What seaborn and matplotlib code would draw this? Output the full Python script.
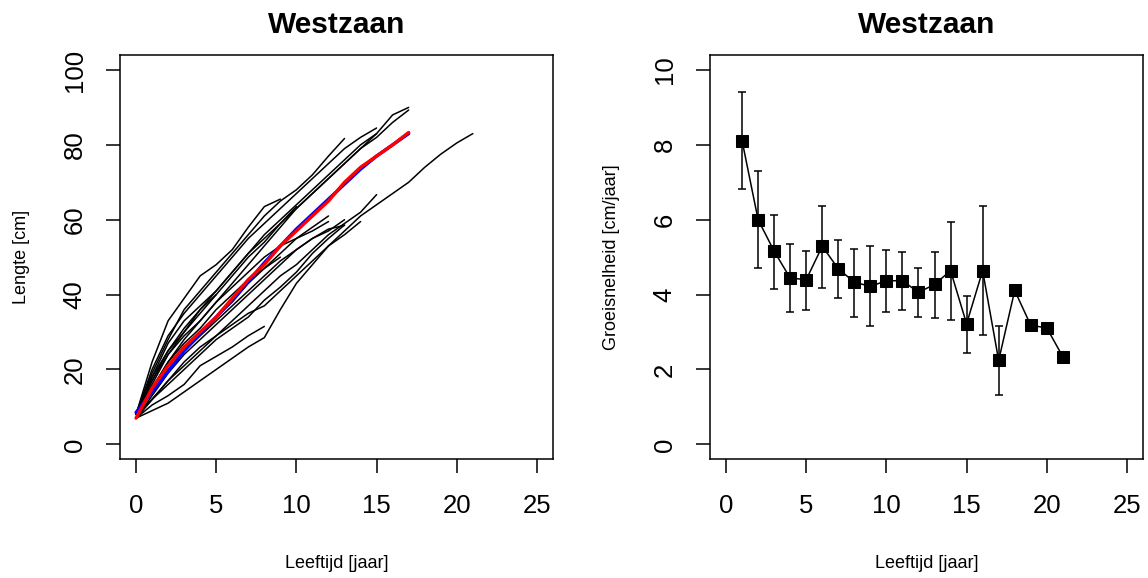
import numpy as np
import pandas as pd
import matplotlib
matplotlib.use("Agg")
import matplotlib.pyplot as plt
import seaborn as sns

# ---------------- data ----------------
# individual back-calculated growth curves (length in cm at age 0,1,2,...)
len_f01 = [8, 18, 27, 33, 37, 41, 46, 51, 56, 60, 64, 68, 72, 76, 80, 83, 88, 90]
len_f02 = [8, 16, 24, 30, 35, 40, 45, 50, 54, 59, 63, 67, 71, 75, 79, 82, 86, 89.3]
len_f03 = [8, 20, 29, 35, 40, 45, 50, 55, 59, 63, 67, 71, 75, 79, 82, 84.5]
len_f04 = [7, 15, 22, 28, 33, 38, 43, 48, 53, 58, 63, 67, 71, 75, 79, 83]
len_f05 = [8, 19, 28, 36, 41, 46, 51, 56, 61, 65, 68, 72, 77, 81.7]
len_f06 = [7, 9, 11, 14, 17, 20, 23, 26, 28.5, 36, 43, 48, 53, 57, 61, 64, 67, 70, 74, 77.5, 80.5, 83]
len_f07 = [7, 12, 17, 21, 25, 29, 33, 37, 41, 45, 48, 52, 56, 59, 62, 66.7]
len_f08 = [8, 15, 21, 26, 30, 34, 38, 43, 47, 51, 55, 58, 61]
len_f09 = [7, 13, 19, 24, 28, 32, 36, 40, 44, 48, 52, 55, 57, 60]
len_f10 = [8, 14, 20, 25, 29, 33, 37, 41, 45, 49, 52, 55, 57.5, 58.5]
len_f11 = [8, 22, 33, 39, 45, 48, 52, 58, 63.5, 65.5]
len_f12 = [7, 10.5, 13, 16, 21, 23.5, 26, 29, 31.5]
len_f13 = [8, 17, 25, 31, 36, 41, 46, 51, 55, 59, 63.5]
len_f14 = [8, 18, 25, 30, 36, 40]
len_f15 = [7, 12, 17, 22, 26, 29, 32, 35, 37, 41, 45, 49, 53, 56, 59.5]
len_f16 = [8, 12, 16, 20, 24, 28, 31, 34, 38.5, 42, 46, 51, 55, 58.6]
len_f17 = [8, 17, 24, 29, 33, 38, 42, 46, 50, 53, 55, 57, 59.5]
len_f18 = [8, 15, 22, 27, 31, 36, 40, 44, 47, 50]

# mean curve (red) and fitted curve (blue), ages 0..17
mean_len = [7, 15, 21, 26, 30, 34, 39, 44, 48, 53, 57, 61, 65, 70, 74, 77, 80, 83.3]
fit_len = [8.5, 14, 19.5, 25, 29.5, 34, 38.5, 43.5, 48.5, 53, 57.5, 61.5, 65.5, 69.5, 73.5, 77, 80, 83]

# growth rate panel
rate_age = list(range(1, 22))
rate_mean = [8.11, 6.0, 5.16, 4.44, 4.4, 5.29, 4.69, 4.33, 4.22, 4.37, 4.37, 4.06,
             4.27, 4.64, 3.22, 4.64, 2.24, 4.11, 3.18, 3.11, 2.34]
rate_low = [6.82, 4.71, 4.15, 3.54, 3.6, 4.18, 3.91, 3.4, 3.16, 3.54, 3.6, 3.4,
            3.38, 3.33, 2.44, 2.91, 1.33, np.nan, np.nan, np.nan, np.nan]
rate_high = [9.42, 7.29, 6.13, 5.35, 5.16, 6.37, 5.47, 5.23, 5.31, 5.18, 5.13, 4.7,
             5.14, 5.94, 3.96, 6.36, 3.15, np.nan, np.nan, np.nan, np.nan]

title_txt = "Westzaan"
xlabel_txt = "Leeftijd [jaar]"
ylabel_left = "Lengte [cm]"
ylabel_right = "Groeisnelheid [cm/jaar]"
xticks = [0, 5, 10, 15, 20, 25]
yticks_left = [0, 20, 40, 60, 80, 100]
yticks_right = [0, 2, 4, 6, 8, 10]

# ---------------- build tables ----------------
curves = [len_f01, len_f02, len_f03, len_f04, len_f05, len_f06, len_f07, len_f08, len_f09,
          len_f10, len_f11, len_f12, len_f13, len_f14, len_f15, len_f16, len_f17, len_f18]
rows = []
for i, c in enumerate(curves):
    for age, L in enumerate(c):
        rows.append({"fish": i, "age": age, "length": L})
df_fish = pd.DataFrame(rows)
df_mean = pd.DataFrame({"age": range(len(mean_len)), "length": mean_len})
df_fit = pd.DataFrame({"age": range(len(fit_len)), "length": fit_len})
df_rate = pd.DataFrame({"age": rate_age, "rate": rate_mean, "low": rate_low, "high": rate_high})

# ---------------- style ----------------
sns.set_theme(style="white")
plt.rcParams["font.family"] = ["Liberation Sans", "DejaVu Sans"]

fig = plt.figure(figsize=(11.48, 5.78), dpi=100)
W, H = 1148, 578
ax1 = fig.add_axes([120 / W, (H - 459.3) / H, 433 / W, 404.3 / H])
ax2 = fig.add_axes([710 / W, (H - 459.3) / H, 433 / W, 404.3 / H])

# left panel
sns.lineplot(data=df_fish, x="age", y="length", units="fish", estimator=None,
             color="black", lw=1.1, ax=ax1, legend=False)
sns.lineplot(data=df_fit, x="age", y="length", color="blue", lw=2.4, ax=ax1)
sns.lineplot(data=df_mean, x="age", y="length", color="red", lw=2.4, ax=ax1)
ax1.set_xlim(-1, 26)
ax1.set_ylim(-4, 104)
ax1.set_yticks(yticks_left)

# right panel
ax2.errorbar(df_rate["age"], df_rate["rate"],
             yerr=[df_rate["rate"] - df_rate["low"], df_rate["high"] - df_rate["rate"]],
             fmt="none", ecolor="black", elinewidth=1.1, capsize=2.6, capthick=1.1)
sns.lineplot(data=df_rate, x="age", y="rate", color="black", lw=1.1, marker="s",
             markersize=9, markeredgecolor="black", markerfacecolor="black", ax=ax2)
ax2.set_xlim(-1, 26)
ax2.set_ylim(-0.4, 10.4)
ax2.set_yticks(yticks_right)

for ax, yl in [(ax1, ylabel_left), (ax2, ylabel_right)]:
    ax.set_xticks(xticks)
    for s in ax.spines.values():
        s.set_visible(True)
        s.set_color("black")
        s.set_linewidth(1.1)
    ax.tick_params(axis="both", which="major", direction="out", length=10, width=1.1,
                   color="black", labelsize=18.5, labelcolor="black",
                   bottom=True, left=True, top=False, right=False)
    ax.tick_params(axis="x", pad=15)
    ax.tick_params(axis="y", pad=14)
    for lab in ax.get_yticklabels():
        lab.set_rotation(90)
        lab.set_va("center")
    ax.set_xlabel(xlabel_txt, fontsize=13, color="black")
    ax.set_ylabel(yl, fontsize=13, color="black")
    ax.xaxis.set_label_coords(0.5, -0.237)
    ax.yaxis.set_label_coords(-0.208, 0.5)
    ax.set_title(title_txt, fontsize=21.5, fontweight="bold", color="black",
                 y=1.074, va="center", pad=0)
    ax.grid(False)

fig.savefig("out.png", dpi=100)
